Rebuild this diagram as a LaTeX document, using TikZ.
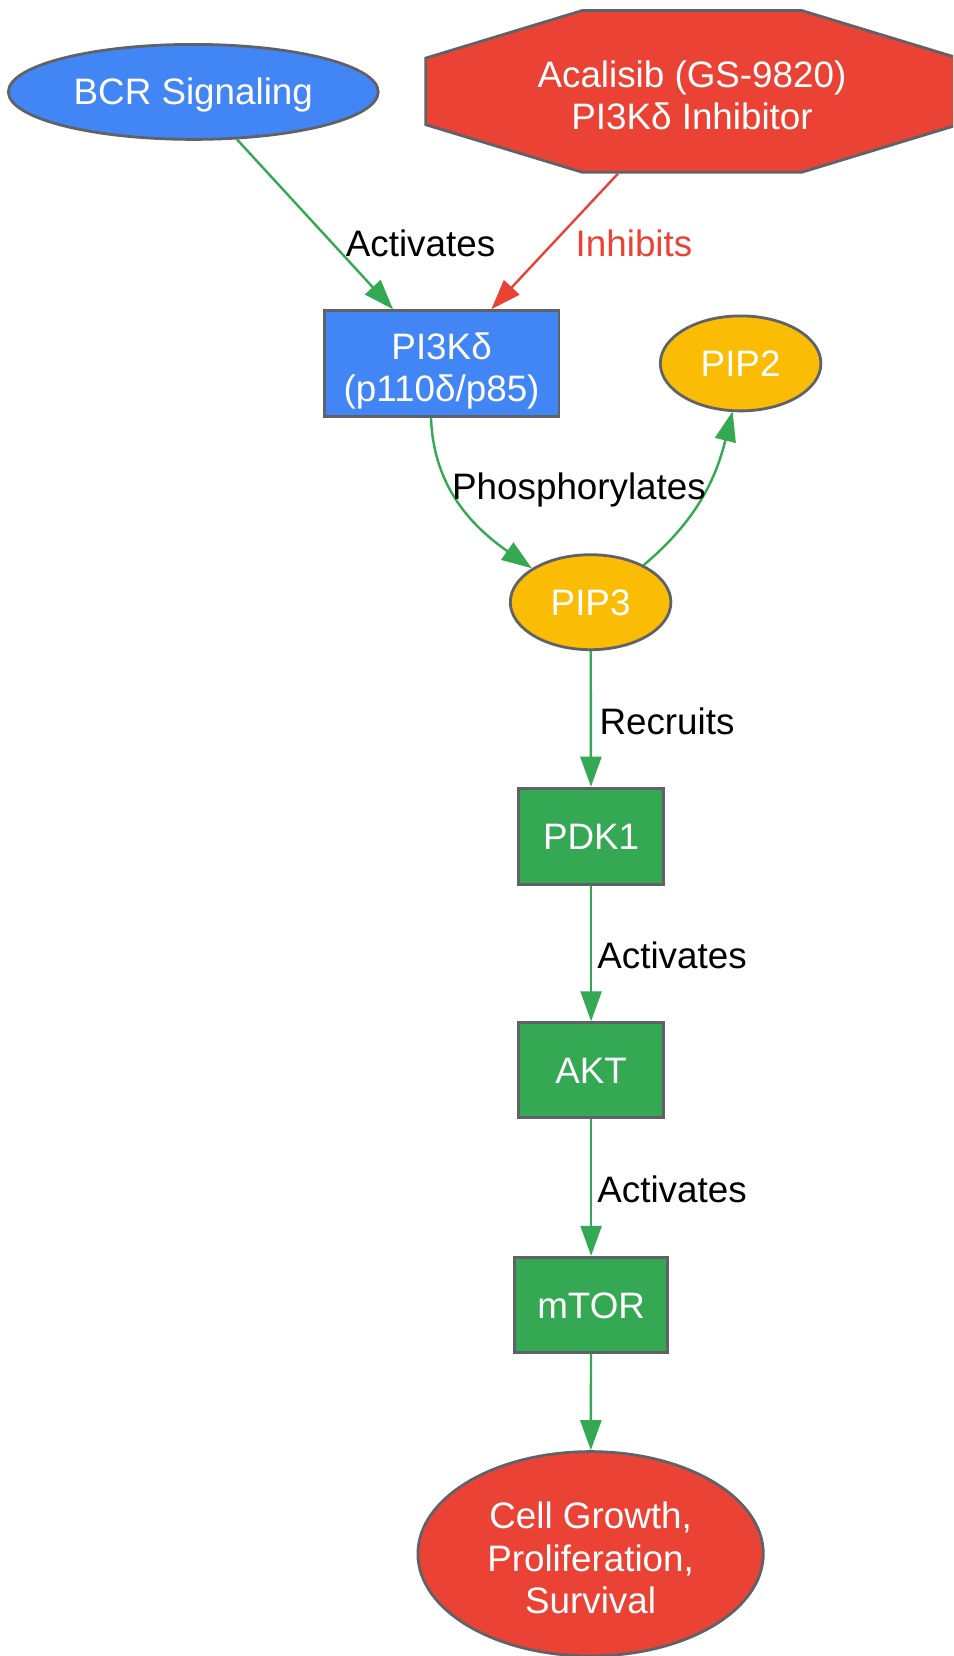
\documentclass[tikz,border=0pt]{standalone}
\usepackage{fontspec}
\setmainfont{Liberation Sans}
\usetikzlibrary{shapes.geometric,arrows.meta}
\definecolor{gblue}{HTML}{4285F4}
\definecolor{gred}{HTML}{EA4335}
\definecolor{gyellow}{HTML}{FBBC05}
\definecolor{ggreen}{HTML}{34A853}
\definecolor{gborder}{HTML}{5F6368}
\newcommand\nstrut{\rule[-7.2pt]{0pt}{40.8pt}}
\newcommand\fstrut{\rule[-7.2pt]{0pt}{49.2pt}}
\begin{document}
\begin{tikzpicture}[x=1pt,y=1pt,
  base/.style={draw=gborder, line width=2.8pt, text=white, font=\fontsize{36.8}{42.3}\selectfont, align=center, inner sep=0pt},
  oval/.style={base, ellipse},
  box/.style={base, rectangle},
  conn/.style={draw=ggreen, line width=2.4pt, -{Triangle[length=30pt,width=21pt]}},
  lbl/.style={font=\fontsize{36.8}{42.3}\selectfont, text=black, anchor=base, inner sep=0pt}]
\clip (0,0) rectangle (953,-1656);
\fill[white] (0,0) rectangle (953,-1656);
% octagon
\draw[fill=gred, draw=gborder, line width=2.8pt]
  (582.1,-10.6) -- (801.9,-10.6) -- (958.2,-58.1) -- (958.2,-124.7) -- (801.9,-172.2)
  -- (582.1,-172.2) -- (425.8,-124.7) -- (425.8,-58.1) -- cycle;
\node[base, draw=none, minimum width=532pt, minimum height=161.6pt] (acal) at (692,-91.4) {\fstrut Acalisib (GS-9820)\\\nstrut PI3Kδ Inhibitor};
\node[oval, fill=gblue, minimum width=369.8pt, minimum height=95pt] (bcr) at (193.3,-91.9) {\nstrut BCR Signaling};
\node[box, fill=gblue, minimum width=234.6pt, minimum height=105.7pt] (pi3k) at (441.6,-363.5) {\fstrut PI3Kδ\\\nstrut (p110δ/p85)};
\node[oval, fill=gyellow, minimum width=160.6pt, minimum height=95pt] (pip2) at (740.6,-363.4) {\nstrut PIP2};
\node[oval, fill=gyellow, minimum width=160.6pt, minimum height=95pt] (pip3) at (590.6,-602.2) {\nstrut PIP3};
\node[box, fill=ggreen, minimum width=144.8pt, minimum height=96.2pt] (pdk1) at (591.1,-836.2) {\nstrut PDK1};
\node[box, fill=ggreen, minimum width=144.8pt, minimum height=95.1pt] (akt) at (591.1,-1070.2) {\nstrut AKT};
\node[box, fill=ggreen, minimum width=153.2pt, minimum height=95.1pt] (mtor) at (591.1,-1304.8) {\nstrut mTOR};
\node[oval, fill=gred, minimum width=345.4pt, minimum height=204.4pt] (cell) at (590.6,-1553.8) {\fstrut Cell Growth,\\\nstrut Proliferation,\\\nstrut Survival};
% connectors
\draw[conn] (bcr) -- ([xshift=-48.6pt]pi3k.north);
\draw[conn, draw=gred, -{Triangle[length=30pt,width=21pt,fill=gred]}] ([xshift=-74pt]acal.south) -- ([xshift=49.7pt]pi3k.north);
\draw[conn] ([xshift=-10.6pt]pi3k.south) to[out=-88, in=145] (pip3.150);
\draw[conn] (pip3.35) to[out=40, in=-104] ([xshift=-8pt,yshift=1pt]pip2.south);
\draw[conn] (pip3) -- (pdk1);
\draw[conn] (pdk1) -- (akt);
\draw[conn] (akt) -- (mtor);
\draw[conn] (mtor) -- (cell);
% labels
\node[lbl] (l1) at (420.5,-256.2) {Activates};
\node[lbl, text=gred] (l2) at (634,-256.2) {Inhibits};
\node[lbl] (l3) at (579,-499.3) {Phosphorylates};
\node[lbl] (l4) at (667,-734.8) {Recruits};
\node[lbl] (l5) at (672,-968.2) {Activates};
\node[lbl] (l6) at (672,-1202.8) {Activates};
\end{tikzpicture}
\end{document}
